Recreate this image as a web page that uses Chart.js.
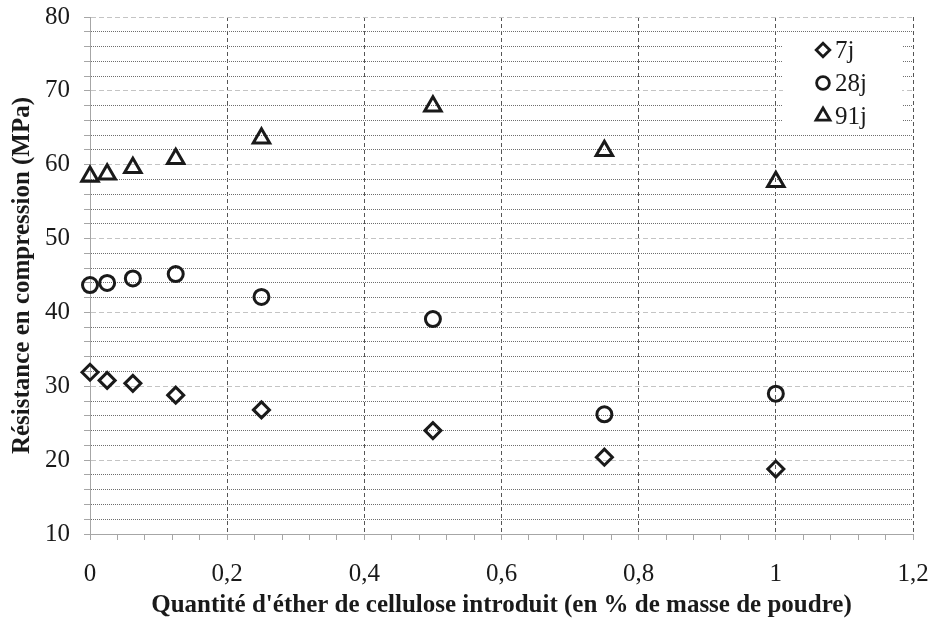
<!DOCTYPE html>
<html lang="fr">
<head>
<meta charset="UTF-8">
<title>Résistance en compression</title>
<script src="https://cdn.jsdelivr.net/npm/chart.js"></script>
<style>
  body { margin: 0; background: #fff; }
  #wrap { width: 932px; height: 623px; }
</style>
</head>
<body>
<div id="wrap"><canvas id="chart" width="932" height="623"></canvas></div>
<script>
// quantité d'éther de cellulose introduit (% de masse de poudre)
const dosages = [0, 0.025, 0.0625, 0.125, 0.25, 0.5, 0.75, 1];
// résistance en compression (MPa) par échéance
const r7j  = [31.9, 30.8, 30.4, 28.8, 26.8, 24.0, 20.4, 18.8];
const r28j = [43.7, 44.0, 44.6, 45.2, 42.1, 39.1, 26.2, 29.0];
const r91j = [58.4, 58.7, 59.6, 60.8, 63.6, 67.9, 61.9, 57.7];
const seriesNames = ['7j', '28j', '91j'];

const serif = "'Liberation Serif', 'Times New Roman', serif";
const ink = '#1a1a1a';
const axisGrey = '#a6a6a6';
const none = 'rgba(0,0,0,0)';

const isMult = (v, step) => Math.abs(v / step - Math.round(v / step)) < 1e-6;
const toPoints = vals => dosages.map((x, i) => ({ x: x, y: vals[i] }));

// légende posée dans la zone de tracé (comme Excel)
const legendBox = {
    id: 'legendBox',
    afterDatasetsDraw(chart) {
        const { ctx, chartArea } = chart;
        const x0 = chartArea.right - 130;
        const y0 = chartArea.top + 19;
        ctx.save();
        ctx.fillStyle = '#fff';
        ctx.fillRect(x0, y0, 119, 97);
        chart.data.datasets.forEach((ds, i) => {
            const cx = x0 + 40;
            const cy = y0 + 14 + i * 33;
            ctx.strokeStyle = ink;
            ctx.fillStyle = none;
            ctx.lineWidth = 2.8;
            Chart.helpers.drawPoint(ctx, {
                pointStyle: ds.pointStyle,
                radius: ds.pointRadius * 0.85,
                borderWidth: 2.8,
                rotation: 0
            }, cx, cy);
            ctx.fillStyle = ink;
            ctx.font = '25px ' + serif;
            ctx.textBaseline = 'middle';
            ctx.textAlign = 'left';
            ctx.fillText(ds.label, cx + 12, cy + 1);
        });
        ctx.restore();
    }
};

const styles = [
    { pointStyle: 'rectRot', pointRadius: 8 },
    { pointStyle: 'circle', pointRadius: 7.5 },
    { pointStyle: 'triangle', pointRadius: 9.5 }
];

const datasets = [r7j, r28j, r91j].map((vals, i) => ({
    label: seriesNames[i],
    data: toPoints(vals),
    pointStyle: styles[i].pointStyle,
    pointRadius: styles[i].pointRadius,
    pointHoverRadius: styles[i].pointRadius,
    pointBorderWidth: 3,
    borderColor: ink,
    backgroundColor: none,
    showLine: false,
    clip: false
}));

new Chart(document.getElementById('chart').getContext('2d'), {
    type: 'scatter',
    data: { datasets: datasets },
    options: {
        responsive: false,
        animation: false,
        events: [],
        layout: { padding: { top: 17, right: 19, left: 0, bottom: 0 } },
        plugins: {
            legend: { display: false },
            tooltip: { enabled: false }
        },
        scales: {
            x: {
                type: 'linear',
                min: 0,
                max: 1.2,
                ticks: {
                    stepSize: 0.04,
                    autoSkip: false,
                    maxRotation: 0,
                    padding: 19,
                    color: ink,
                    font: { family: serif, size: 25 },
                    callback: v => isMult(v, 0.2) ? String(Math.round(v * 10) / 10).replace('.', ',') : ''
                },
                grid: {
                    color: c => (c.tick && c.tick.value > 0.001 && isMult(c.tick.value, 0.2)) ? '#555' : none,
                    lineWidth: 1,
                    tickLength: 6,
                    tickColor: axisGrey,
                    tickWidth: 1
                },
                border: { display: true, color: axisGrey, width: 1, dash: [4, 3] },
                title: {
                    display: true,
                    text: "Quantité d'éther de cellulose introduit (en % de masse de poudre)",
                    color: ink,
                    font: { family: serif, size: 25, weight: 'bold' },
                    padding: { top: 0, bottom: 2 }
                },
                afterFit: s => {
                    s.height = 89;
                    s.paddingLeft = 0;
                    s.paddingRight = 0;
                }
            },
            y: {
                min: 10,
                max: 80,
                ticks: {
                    stepSize: 2,
                    autoSkip: false,
                    padding: 14,
                    color: ink,
                    font: { family: serif, size: 25 },
                    callback: v => isMult(v, 10) ? String(v) : ''
                },
                grid: {
                    color: c => {
                        if (!c.tick) return axisGrey;
                        if (c.tick.value <= 10) return none;
                        return isMult(c.tick.value, 10) ? '#c4c4c4' : '#6e6e6e';
                    },
                    lineWidth: 1,
                    tickLength: 6,
                    tickColor: axisGrey,
                    tickWidth: 1
                },
                border: {
                    display: true,
                    color: axisGrey,
                    width: 1,
                    dash: c => (c.tick && !isMult(c.tick.value, 10)) ? [1, 1] : [5, 3]
                },
                title: {
                    display: true,
                    text: 'Résistance en compression (MPa)',
                    color: ink,
                    font: { family: serif, size: 25, weight: 'bold' },
                    padding: { top: 8, bottom: 0 }
                },
                afterFit: s => {
                    s.width = 90;
                    s.paddingTop = 0;
                    s.paddingBottom = 0;
                }
            }
        }
    },
    plugins: [legendBox]
});
</script>
</body>
</html>
